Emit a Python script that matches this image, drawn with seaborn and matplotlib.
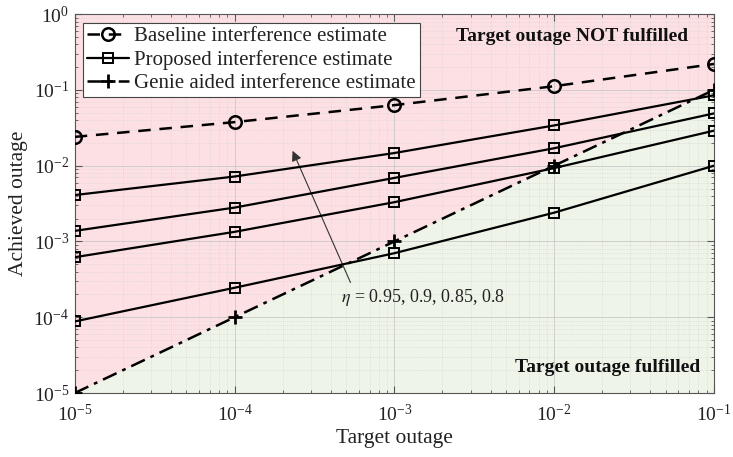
import numpy as np
import pandas as pd
import matplotlib
matplotlib.use("Agg")
import matplotlib.pyplot as plt
import seaborn as sns

target = [1e-5, 1e-4, 1e-3, 1e-2, 1e-1]
baseline = [0.024, 0.0376, 0.063, 0.112, 0.22]
prop_095 = [0.0041, 0.0072, 0.0147, 0.034, 0.085]
prop_090 = [0.00138, 0.0028, 0.0069, 0.017, 0.049]
prop_085 = [0.00062, 0.00134, 0.0033, 0.0093, 0.029]
prop_080 = [0.000088, 0.000245, 0.0007, 0.0024, 0.010]
genie = [1e-5, 1e-4, 1e-3, 1e-2, 1e-1]

sns.set_style("ticks")
plt.rcParams['font.family'] = ['Liberation Serif', 'DejaVu Serif']
plt.rcParams['mathtext.fontset'] = 'stix'

fig = plt.figure(figsize=(7.33, 4.57), dpi=100)
ax = fig.add_axes([0.102, 0.14, 0.872, 0.829])
ax.set_xscale('log')
ax.set_yscale('log')
ax.set_xlim(1e-5, 1e-1)
ax.set_ylim(1e-5, 1)

ax.fill_between(target, genie, 1, color='#fde0e3', lw=0, zorder=0)
ax.fill_between(target, 1e-5, genie, color='#eef5e8', lw=0, zorder=0)

ax.grid(which='major', color='#c8c8c8', lw=0.6, ls='-')
ax.grid(which='minor', color='#d2d2d2', lw=0.5, ls=':')

df_b = pd.DataFrame({'x': target, 'y': baseline})
sns.lineplot(data=df_b, x='x', y='y', ax=ax, color='black', lw=1.8,
             marker='o', markersize=9, markerfacecolor='none', markeredgewidth=1.8,
             markeredgecolor='black', label='Baseline interference estimate', zorder=5)
ax.lines[-1].set_linestyle((0, (5, 3.5)))

first = True
for vals in [prop_095, prop_090, prop_085, prop_080]:
    df_p = pd.DataFrame({'x': target, 'y': vals})
    sns.lineplot(data=df_p, x='x', y='y', ax=ax, color='black', lw=1.6,
                 marker='s', markersize=7, markerfacecolor='none', markeredgewidth=1.4,
                 markeredgecolor='black',
                 label='Proposed interference estimate' if first else None, zorder=5)
    first = False

df_g = pd.DataFrame({'x': target, 'y': genie})
sns.lineplot(data=df_g, x='x', y='y', ax=ax, color='black', lw=1.8,
             marker='+', markersize=10, markeredgewidth=2, markeredgecolor='black',
             label='Genie aided interference estimate', zorder=6)
ax.lines[-1].set_linestyle((0, (6, 2.5, 1.5, 2.5)))

for sp in ax.spines.values():
    sp.set_color('#555555')
    sp.set_linewidth(0.8)
ax.tick_params(which='both', direction='in', top=True, right=True, colors='#555555',
               labelcolor='#222222', labelsize=14)
ax.tick_params(which='major', length=5)
ax.tick_params(which='minor', length=2.5)
ax.tick_params(axis='x', which='major', pad=8)
ax.tick_params(axis='y', which='major', pad=4)

ax.set_xlabel('Target outage', fontsize=15.5, color='#222222', labelpad=3)
ax.set_ylabel('Achieved outage', fontsize=15.5, color='#222222', labelpad=4)

leg = ax.legend(loc='upper left', fontsize=15, frameon=True, fancybox=False,
                edgecolor='#444444', framealpha=1, borderpad=0.2, labelspacing=0.18,
                handlelength=2.0, handletextpad=0.25, borderaxespad=0.4)
leg.get_frame().set_linewidth(0.8)
for t in leg.get_texts():
    t.set_color('#222222')

ax.text(0.96, 0.94, 'Target outage NOT fulfilled', transform=ax.transAxes,
        ha='right', va='center', fontsize=14, fontweight='bold', color='#111111')
ax.text(0.978, 0.068, 'Target outage fulfilled', transform=ax.transAxes,
        ha='right', va='center', fontsize=14, fontweight='bold', color='#111111')

ax.annotate('', xy=(2.27e-4, 0.017), xytext=(5.4e-4, 2.66e-4),
            arrowprops=dict(arrowstyle='-|>', color='#333333', lw=0.8,
                            mutation_scale=15))
ax.text(1.5e-3, 1.85e-4, r'$\eta$ = 0.95, 0.9, 0.85, 0.8', fontsize=13,
        ha='center', va='center', color='#222222')

fig.savefig('out.png', dpi=100)
